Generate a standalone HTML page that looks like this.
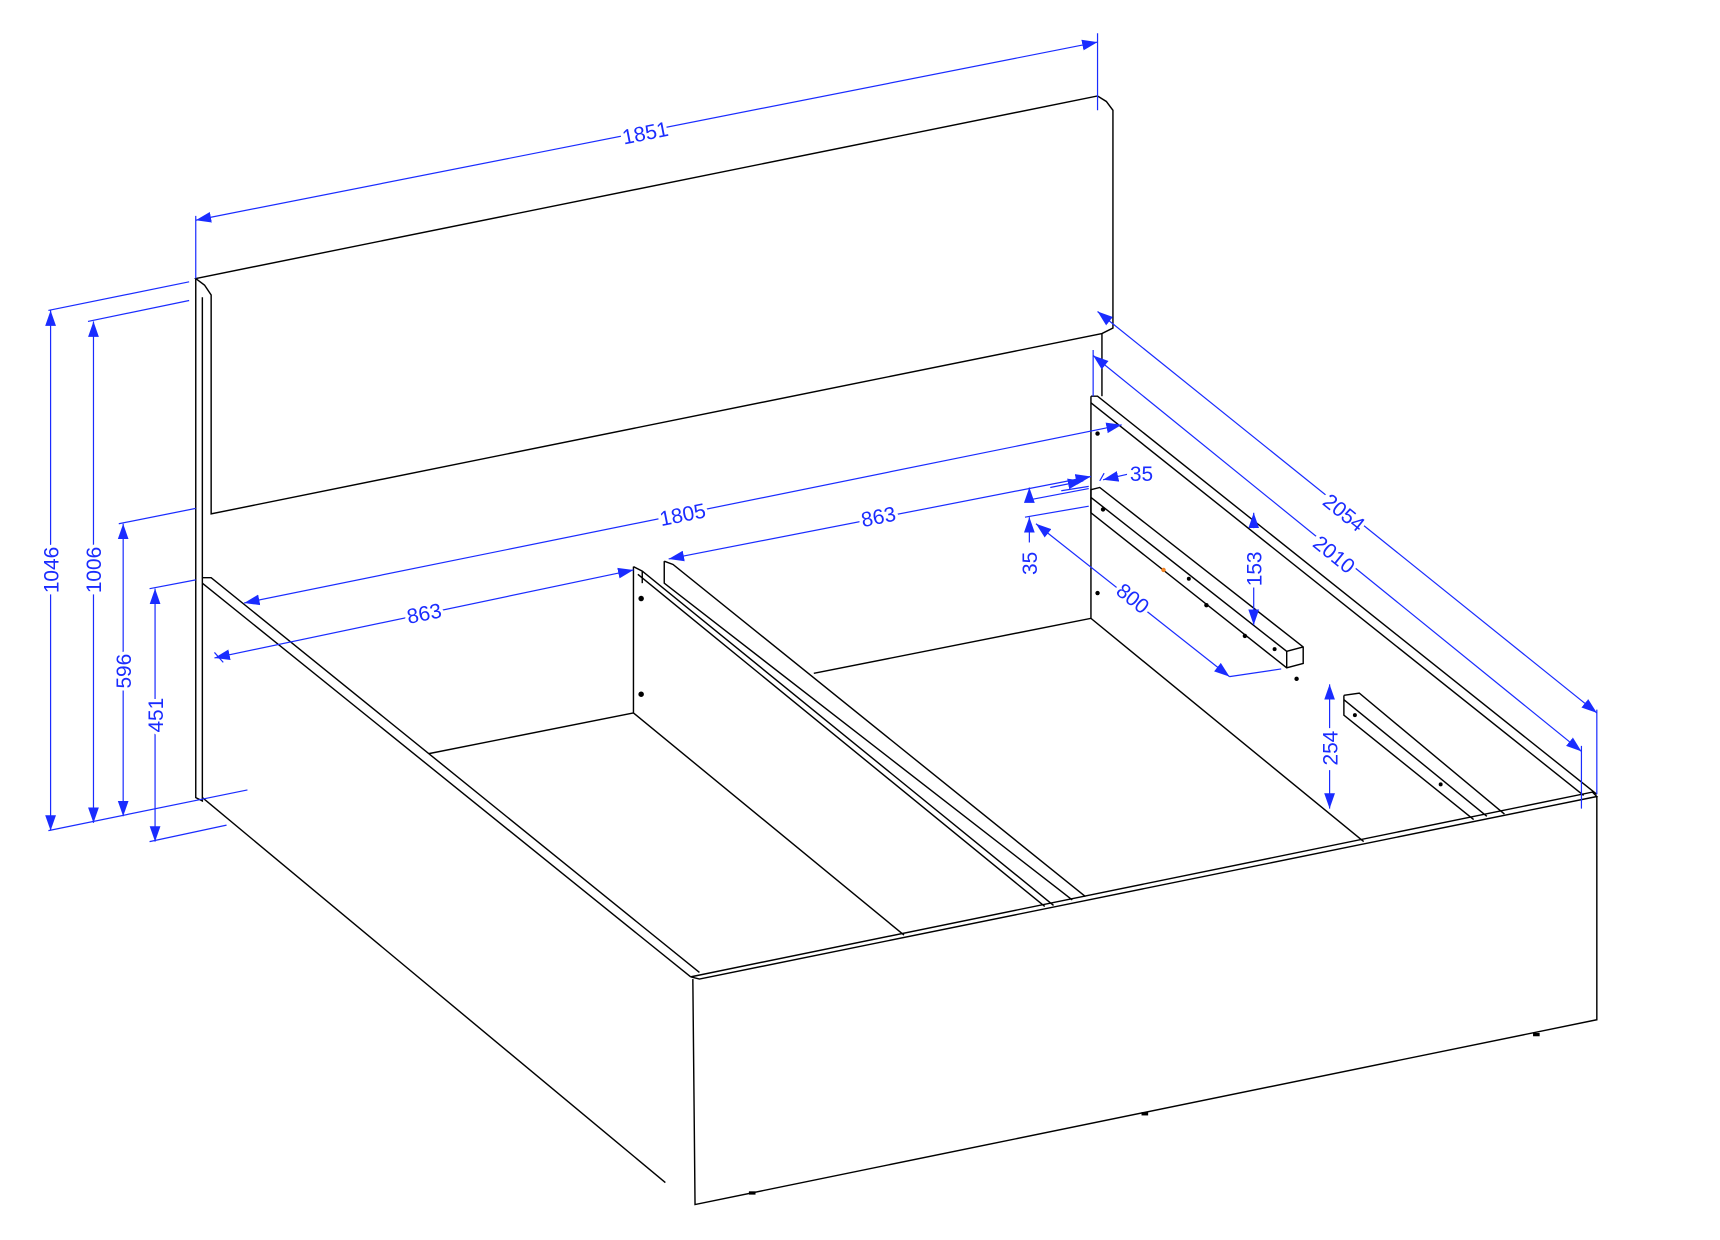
<!DOCTYPE html>
<html><head><meta charset="utf-8"><style>html,body{margin:0;padding:0;background:#fff}svg{display:block}</style></head>
<body>
<svg width="1720" height="1240" viewBox="0 0 1564 1127" xmlns="http://www.w3.org/2000/svg">
<defs>
<marker id="a" viewBox="0 0 10 10" refX="10" refY="5" markerWidth="14" markerHeight="14" markerUnits="userSpaceOnUse" orient="auto-start-reverse"><path d="M0,1.5 L10,5 L0,8.5 z" fill="#1a2cff"/></marker>
</defs>
<g fill="none" stroke="#000" stroke-width="1.3">
<path d="M178,253 L998,87 L1006,92 L1012,100 L1012,298 L1002,303 L192,467 L192,268 L186,259 Z"/>
<path d="M178,253 L178,725 L184,728 L184,270"/>
<path d="M1002,303 L1002,360"/>
<path d="M992,360 L992,562"/>
<path d="M184,525 L192,525 L636,884"/>
<path d="M184,530 L628,888"/>
<path d="M184,725 L605,1075"/>
<path d="M628,888 L1448,720 L1452,724 L636,890 L628,888"/>
<path d="M630,890 L632,1095 L1452,927 L1452,724"/>
<path d="M992,360 L998,360 L1452,722"/>
<path d="M992,366 L1440,723"/>
<path d="M576,515 L584,519 L958,823"/>
<path d="M576,515 L576,648 L822,850"/>
<path d="M584,519 L584,530"/>
<path d="M580,522 L950,824"/>
<path d="M390,685 L576,648"/>
<path d="M604,510 L612,513 L987,815"/>
<path d="M604,510 L604,530 L975,818"/>
<path d="M740,612 L992,562 L1240,765"/>
<path d="M992,445 L1000,443 L1185,588 L1185,603 L1170,607 L992,466 Z"/>
<path d="M992,452 L1170,592 L1185,588"/>
<path d="M1170,592 L1170,607"/>
<path d="M1222,632 L1236,630 L1368,740"/>
<path d="M1222,632 L1222,650 L1340,745"/>
<path d="M1222,636 L1352,742"/>
</g>
<g fill="#000">
<circle cx="998" cy="394" r="2"/><circle cx="998" cy="539" r="2"/><circle cx="1003" cy="463" r="2"/>
<circle cx="1081" cy="526" r="1.8"/><circle cx="1097" cy="550" r="2"/><circle cx="1132" cy="578" r="2"/><circle cx="1159" cy="590" r="1.8"/><circle cx="1179" cy="617" r="2"/>
<circle cx="583" cy="544" r="2.5"/><circle cx="583" cy="631" r="2.5"/>
<circle cx="1232" cy="650" r="1.8"/><circle cx="1310" cy="713" r="1.8"/>
<rect x="681" y="1083" width="6" height="3"/><rect x="1038" y="1011" width="6" height="3"/><rect x="1394" y="939" width="6" height="3"/>
</g>
<circle cx="1058" cy="518" r="2" fill="#f08020"/>
<g fill="none" stroke="#1a2cff" stroke-width="1.1">
<path d="M178,196 L178,253 M998,30 L998,100"/>
<path d="M44,282 L172,256 M80,292 L172,273 M108,476 L178,462 M136,535 L178,527 M136,765 L206,750 M44,755 L225,718"/>
<path d="M994,318 L994,360 M1438,678 L1438,735 M1452,645 L1452,722"/>
<path d="M932,470 L990,460 M932,455 L990,444 M1118,615 L1165,608 M195,593 L203,602"/>
<path d="M1000,437 L1004,430"/>
<path d="M178,200 L998,38" marker-start="url(#a)" marker-end="url(#a)"/>
<path d="M46,282 L46,755" marker-start="url(#a)" marker-end="url(#a)"/>
<path d="M85,292 L85,748" marker-start="url(#a)" marker-end="url(#a)"/>
<path d="M112,476 L112,742" marker-start="url(#a)" marker-end="url(#a)"/>
<path d="M141,535 L141,765" marker-start="url(#a)" marker-end="url(#a)"/>
<path d="M222,548 L1020,386" marker-start="url(#a)" marker-end="url(#a)"/>
<path d="M195,598 L576,518" marker-start="url(#a)" marker-end="url(#a)"/>
<path d="M608,508 L992,433" marker-start="url(#a)" marker-end="url(#a)"/>
<path d="M998,283 L1452,648" marker-start="url(#a)" marker-end="url(#a)"/>
<path d="M994,323 L1438,683" marker-start="url(#a)" marker-end="url(#a)"/>
<path d="M942,476 L1118,615" marker-start="url(#a)" marker-end="url(#a)"/>
<path d="M936,443 L936,455" marker-start="url(#a)"/>
<path d="M936,493 L936,470" marker-end="url(#a)"/>
<path d="M1140,466 L1140,480" marker-start="url(#a)"/>
<path d="M1140,500 L1140,568" marker-end="url(#a)"/>
<path d="M1209,622 L1209,662" marker-start="url(#a)"/>
<path d="M1209,700 L1209,735" marker-end="url(#a)"/>
<path d="M955,443 L985,437" marker-end="url(#a)"/>
<path d="M1025,431 L1003,436" marker-end="url(#a)"/>
<path d="M965,446 L990,442"/>
</g>
<g fill="#1a2cff" stroke="#fff" stroke-width="6" paint-order="stroke" font-family="Liberation Sans, sans-serif" font-size="19" text-anchor="middle">
<text transform="translate(588,127) rotate(-11.2)">1851</text>
<text transform="translate(53,518) rotate(-90)">1046</text>
<text transform="translate(92,518) rotate(-90)">1006</text>
<text transform="translate(119,610) rotate(-90)">596</text>
<text transform="translate(148,650) rotate(-90)">451</text>
<text transform="translate(622,474) rotate(-11.2)">1805</text>
<text transform="translate(387,564) rotate(-11.2)">863</text>
<text transform="translate(800,476) rotate(-11.2)">863</text>
<text x="1038" y="437">35</text>
<text transform="translate(943,512) rotate(-90)">35</text>
<text transform="translate(1026,549) rotate(38.5)">800</text>
<text transform="translate(1147,517) rotate(-90)">153</text>
<text transform="translate(1216,680) rotate(-90)">254</text>
<text transform="translate(1218,471) rotate(38.8)">2054</text>
<text transform="translate(1209,509) rotate(39)">2010</text>
</g>
</svg>
</body></html>
